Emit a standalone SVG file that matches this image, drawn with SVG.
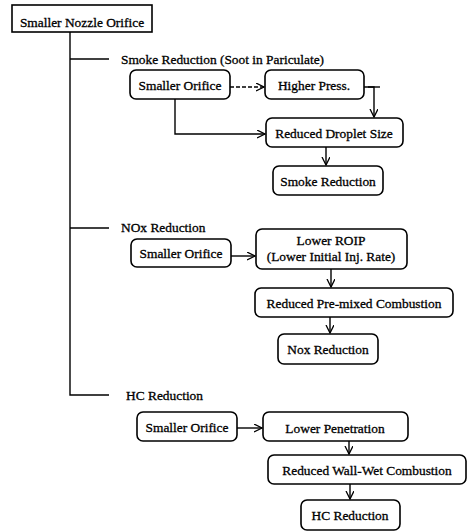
<svg xmlns="http://www.w3.org/2000/svg" width="470" height="532" viewBox="0 0 470 532">
<defs>
<style>
.box{fill:#fff;stroke:#000;stroke-width:1.6}
.t{font-family:"Liberation Serif","Times New Roman",serif;font-size:13.4px;fill:#000;text-anchor:middle;stroke:#000;stroke-width:0.3}
.lbl{font-family:"Liberation Serif","Times New Roman",serif;font-size:13.4px;fill:#000;stroke:#000;stroke-width:0.3}
.c{fill:none;stroke:#000;stroke-width:1.4}
.d{stroke-dasharray:4 2}
</style>
<marker id="ah" markerWidth="10" markerHeight="10" refX="8" refY="4" orient="auto" markerUnits="userSpaceOnUse">
<path d="M0,0 L8,4 L0,8" fill="none" stroke="#000" stroke-width="1.3"/>
</marker>
</defs>
<g id="connectors">
<path class="c" d="M70,32 V395 H109"/>
<path class="c" d="M70,59 H109"/>
<path class="c" d="M70,228 H109"/>
<path class="c d" d="M230,87 H264" marker-end="url(#ah)"/>
<path class="c" d="M364,87 H374 V117" marker-end="url(#ah)"/>
<path class="c" d="M368,87 H380"/>
<path class="c" d="M175,99 V134 H265" marker-end="url(#ah)"/>
<path class="c" d="M326,147 V165" marker-end="url(#ah)"/>
<path class="c" d="M231,256 H255" marker-end="url(#ah)"/>
<path class="c" d="M331,269 V287" marker-end="url(#ah)"/>
<path class="c" d="M330,317 V333" marker-end="url(#ah)"/>
<path class="c" d="M237,428 H262" marker-end="url(#ah)"/>
<path class="c" d="M349,441 V454" marker-end="url(#ah)"/>
<path class="c" d="M350,484 V499" marker-end="url(#ah)"/>
</g>
<g id="root">
<rect class="box" x="12" y="5" width="140" height="27"/>
<text class="t" x="82" y="27">Smaller Nozzle Orifice</text>
</g>
<g id="label-smoke"><text class="lbl" x="121" y="64">Smoke Reduction (Soot in Pariculate)</text></g>
<g id="label-nox"><text class="lbl" x="121" y="232">NOx Reduction</text></g>
<g id="label-hc"><text class="lbl" x="126" y="400">HC Reduction</text></g>
<g id="s-orifice1">
<rect class="box" x="130" y="70" width="100" height="29" rx="6"/>
<text class="t" x="180" y="90">Smaller Orifice</text>
</g>
<g id="s-press">
<rect class="box" x="265" y="70" width="99" height="29" rx="6"/>
<text class="t" x="314" y="90">Higher Press.</text>
</g>
<g id="s-droplet">
<rect class="box" x="266" y="118" width="137" height="29" rx="6"/>
<text class="t" x="334" y="138">Reduced Droplet Size</text>
</g>
<g id="s-smoke">
<rect class="box" x="273" y="166" width="110" height="29" rx="6"/>
<text class="t" x="328" y="186">Smoke Reduction</text>
</g>
<g id="n-orifice2">
<rect class="box" x="131" y="239" width="100" height="28" rx="6"/>
<text class="t" x="181" y="258">Smaller Orifice</text>
</g>
<g id="n-roip">
<rect class="box" x="256" y="229" width="151" height="40" rx="6"/>
<text class="t" x="331" y="245">Lower ROIP</text>
<text class="t" x="331" y="261">(Lower Initial Inj. Rate)</text>
</g>
<g id="n-premixed">
<rect class="box" x="255" y="288" width="198" height="29" rx="6"/>
<text class="t" x="354" y="308">Reduced Pre-mixed Combustion</text>
</g>
<g id="n-nox">
<rect class="box" x="278" y="334" width="100" height="30" rx="6"/>
<text class="t" x="328" y="354">Nox Reduction</text>
</g>
<g id="h-orifice3">
<rect class="box" x="137" y="412" width="100" height="29" rx="6"/>
<text class="t" x="187" y="432">Smaller Orifice</text>
</g>
<g id="h-penetration">
<rect class="box" x="263" y="412" width="145" height="29" rx="6"/>
<text class="t" x="335" y="433">Lower Penetration</text>
</g>
<g id="h-wallwet">
<rect class="box" x="268" y="455" width="198" height="29" rx="6"/>
<text class="t" x="367" y="475">Reduced Wall-Wet Combustion</text>
</g>
<g id="h-hc">
<rect class="box" x="301" y="500" width="99" height="30" rx="6"/>
<text class="t" x="350" y="520">HC Reduction</text>
</g>
</svg>
